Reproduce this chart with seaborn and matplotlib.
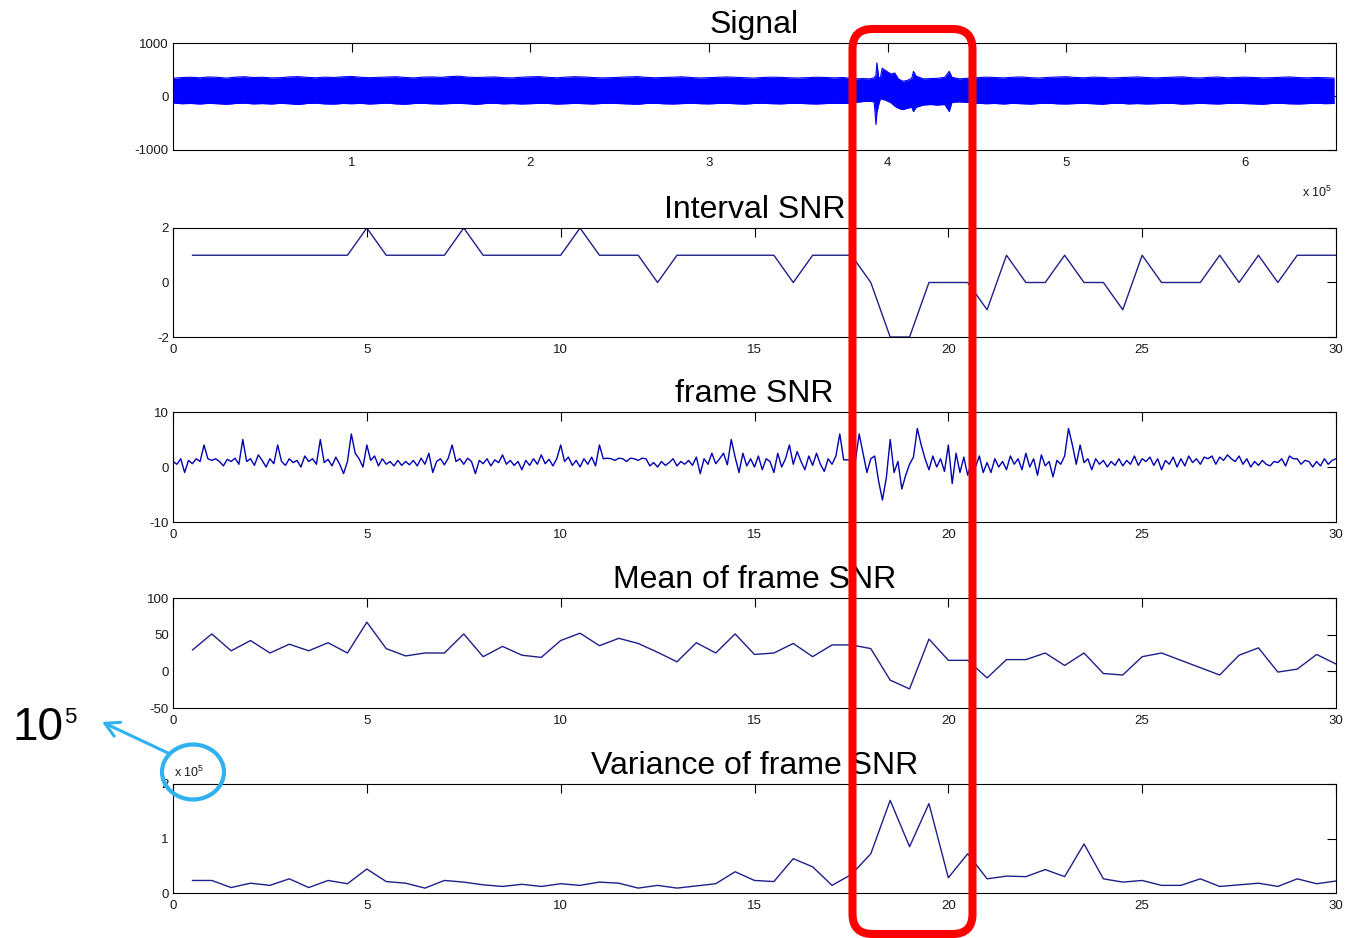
import numpy as np
import pandas as pd
import matplotlib
matplotlib.use("Agg")
import matplotlib.pyplot as plt
import seaborn as sns
from matplotlib.patches import FancyBboxPatch, Ellipse

sns.set_style("white")
plt.rcParams['font.family'] = ['Liberation Sans', 'DejaVu Sans']
plt.rcParams['axes.unicode_minus'] = False
plt.rcParams['mathtext.default'] = 'regular'

# ---------------- data ----------------
# Signal envelope (x in units of 1e5 samples)
sig_x_a = np.round(np.arange(0, 3.76, 0.05), 2)
sig_up_a = [340,355,360,350,365,358,345,362,370,355, 360,348,352,366,372,358,350,362,355,368,
            375,360,352,358,364,370,356,348,362,366, 358,372,380,362,355,360,366,352,348,360,
            368,372,358,350,362,370,365,355,348,352, 360,366,372,358,350,356,362,368,355,346,
            352,360,366,358,350,344,356,362,358,350, 345,352,360,356,348,355]
sig_lo_a = [-120,-135,-130,-140,-128,-135,-145,-130,-125,-138, -132,-140,-128,-135,-150,-130,-125,-138,-142,-130,
            -135,-128,-140,-132,-125,-138,-145,-130,-128,-136, -140,-132,-128,-135,-148,-130,-126,-138,-132,-140,
            -135,-128,-130,-142,-136,-128,-134,-140,-130,-126, -132,-138,-145,-130,-128,-136,-140,-132,-126,-134,
            -138,-130,-128,-136,-142,-130,-126,-134,-138,-130, -128,-135,-140,-132,-126,-130]
sig_x_b = [3.78, 3.82, 3.86, 3.90, 3.925, 3.935, 3.94, 3.95, 3.96, 3.97, 3.99, 4.02, 4.04, 4.06,
           4.085, 4.11, 4.135, 4.145, 4.16, 4.20, 4.24, 4.28, 4.32, 4.345, 4.36, 4.40, 4.45]
sig_up_b = [345, 330, 335, 330, 350, 400, 630, 350, 360, 530, 480, 420, 440, 330,
            285, 300, 340, 470, 380, 330, 335, 340, 360, 470, 360, 330, 340]
sig_lo_b = [-130, -110, -95, -90, -100, -525, -300, -150, -40, -50, -70, -120, -180, -220,
            -245, -220, -200, -280, -200, -160, -150, -160, -150, -280, -110, -100, -110]
sig_x_c = np.round(np.arange(4.50, 6.51, 0.05), 2)
sig_up_c = [350,362,355,348,360,366,352,345,358,364, 370,356,350,362,358,346,352,360,366,355,
            348,356,362,368,352,346,358,364,350,355, 362,356,348,352,360,366,354,348,356,350, 345]
sig_lo_c = [-125,-135,-130,-140,-128,-134,-142,-130,-126,-136, -140,-132,-128,-135,-145,-130,-126,-138,-132,-140,
            -135,-128,-130,-142,-136,-128,-134,-140,-130,-126, -132,-138,-145,-130,-128,-136,-140,-132,-126,-134, -130]

# Interval SNR (x = 0.5 .. 30 step 0.5)
seg_x = np.arange(1, 61) * 0.5
interval_snr = [1,1,1,1,1,1,1,1,1,2, 1,1,1,1,2,1,1,1,1,1,
                2,1,1,1,0,1,1,1,1,1, 1,0,1,1,1,0,-2,-2,0,0,
                0,-1,1,0,0,1,0,0,-1,1, 0,0,0,1,0,1,0,1,1,1]

# Mean of frame SNR
mean_snr = [29,51,28,42,25,37,28,39,25,67, 31,21,25,25,51,20,34,22,19,42,
            52,35,45,38,26,13,39,25,51,23, 25,38,20,36,36,31,-12,-24,44,15,
            15,-9,16,16,25,8,25,-3,-5,20, 25,15,5,-5,22,32,-1,3,23,10]

# Variance of frame SNR (x 1e5)
var_snr = [0.23,0.23,0.10,0.18,0.14,0.26,0.10,0.23,0.17,0.44, 0.21,0.18,0.09,0.23,0.20,0.15,0.12,0.16,0.12,0.17,
           0.14,0.20,0.18,0.09,0.14,0.09,0.13,0.17,0.39,0.23, 0.21,0.63,0.48,0.14,0.34,0.72,1.70,0.85,1.64,0.28,
           0.72,0.26,0.31,0.30,0.43,0.30,0.90,0.26,0.20,0.23, 0.14,0.14,0.26,0.12,0.15,0.18,0.12,0.26,0.17,0.22]

# frame SNR (x = 0 .. 30 step 0.1)
frame_x = np.arange(301) * 0.1
frame_snr = [
    1.0, 0.5, 1.5, -1.0, 1.2, 0.6, 1.5, 1.0, 4.0, 1.5,
    1.2, 1.5, 1.0, 0.2, 1.4, 1.0, 1.6, 0.5, 5.0, 1.0,
    1.5, 0.3, 2.2, 1.2, 0.0, 1.5, 0.6, 4.0, 1.0, 0.3,
    1.5, 0.8, 1.2, 0.0, 2.0, 1.0, 1.5, 0.5, 5.0, 0.8,
    1.4, 0.2, 1.8, 0.5, -1.2, 1.0, 6.0, 2.5, 1.5, 0.0,
    4.0, 1.2, 2.0, 0.2, 1.5, 0.5, 1.0, 0.2, 1.2, 0.3,
    1.0, 0.4, 1.2, 0.2, 1.6, 0.5, 2.5, -1.0, 1.0, 1.5,
    0.4, 1.6, 4.0, 1.0, 1.5, 0.5, 1.6, 1.0, -1.2, 1.2,
    0.6, 1.5, 0.2, 1.3, 0.8, 2.2, 0.5, 1.2, 0.3, 1.0,
    -0.5, 1.2, 0.3, 1.5, 0.5, 2.2, 0.6, 1.4, 0.2, 1.5,
    4.0, 1.0, 1.8, 0.3, 1.2, 0.0, 1.5, 0.5, 1.8, 0.2,
    4.0, 1.5, 1.6, 1.5, 1.2, 1.6, 1.5, 1.0, 1.6, 1.5,
    1.2, 1.6, 1.5, 0.2, 0.8, 0.0, 1.0, 0.3, 0.8, 1.5,
    0.2, 1.0, 0.5, 1.2, 0.3, 1.8, -1.2, 1.5, 0.5, 2.5,
    0.6, 1.5, 2.5, 0.4, 5.0, 1.8, -1.0, 2.5, 0.2, 1.5,
    0.0, 2.0, -0.5, 1.5, 1.0, -1.0, 2.5, 0.0, 1.5, 4.0,
    0.5, 2.8, 1.0, -0.5, 2.0, 0.3, 2.5, 0.5, -0.8, 1.5,
    0.5, 2.0, 6.0, 1.3, 1.3, 1.3, 1.0, 6.0, 2.5, -1.0,
    1.5, 2.0, -2.5, -6.0, -2.0, 5.0, -1.0, 1.0, -4.0, -1.5,
    0.5, 1.8, 7.0, 4.0, 1.5, -0.5, 2.0, 0.0, 1.5, -0.8,
    4.0, -3.0, 2.5, -1.0, 1.8, -1.5, 1.0, 0.0, 2.0, -1.0,
    0.8, -1.0, 1.5, 0.0, 1.0, -0.5, 2.0, 0.5, 1.5, -0.5,
    2.5, 0.0, 1.5, -1.5, 2.2, 0.2, 1.0, -1.8, 1.2, 0.5,
    2.0, 7.0, 4.0, 0.5, 4.0, 0.8, 1.5, -0.5, 1.5, 0.5,
    1.2, 0.0, 1.0, 0.3, 1.5, 0.2, 1.2, 0.5, 2.0, 0.3,
    1.5, 1.0, 1.8, 0.3, 1.5, -0.5, 1.2, 0.5, 1.8, 0.0,
    1.5, 0.2, 2.0, 0.8, 1.5, 0.5, 1.8, 1.5, 2.0, 0.5,
    1.8, 1.2, 2.2, 1.5, 1.0, 2.0, 0.5, 1.5, 0.0, 1.0,
    0.3, 1.2, 0.5, 0.2, 1.0, 0.8, 1.5, 0.2, 2.0, 1.5,
    1.5, 0.5, 1.2, 1.0, 0.0, 1.0, 0.2, 1.5, 0.5, 1.2,
    1.5]

titles = ["Signal", "Interval SNR", "frame SNR", "Mean of frame SNR", "Variance of frame SNR"]
snr_xticks = [0, 5, 10, 15, 20, 25, 30]

# ---------------- figure ----------------
W, H = 1346, 938
fig = plt.figure(figsize=(W / 100, H / 100), dpi=100)

def add_ax(top_px, bot_px):
    l, r = 173, 1336
    return fig.add_axes([l / W, 1 - bot_px / H, (r - l) / W, (bot_px - top_px) / H])

def style(ax, title):
    for sp in ax.spines.values():
        sp.set_color('black')
        sp.set_linewidth(0.8)
    ax.tick_params(direction='in', length=6.5, width=0.8, top=True, right=True,
                   labelsize=9.5, labelcolor='#1a1a1a', color='black')
    ax.tick_params(axis='x', pad=5)
    ax.tick_params(axis='y', pad=3)
    ax.set_title(title, fontsize=23, pad=7, color='black')
    ax.set_xlabel('')
    ax.set_ylabel('')
    ax.grid(False)

line_col = '#1f1f8a'

# Signal
ax0 = add_ax(43, 150)
sig_x = np.concatenate([sig_x_a, sig_x_b, sig_x_c]) * 1e5
sig_up = np.array(sig_up_a + sig_up_b + sig_up_c)
sig_lo = np.array(sig_lo_a + sig_lo_b + sig_lo_c)
ax0.fill_between(sig_x, sig_lo, sig_up, color='#0000ff', lw=0)
sns.lineplot(x=sig_x, y=sig_up, ax=ax0, color='#0000ff', lw=0.8)
sns.lineplot(x=sig_x, y=sig_lo, ax=ax0, color='#0000ff', lw=0.8)
ax0.set_xlim(0, 6.51e5)
ax0.set_ylim(-1000, 1000)
ax0.set_xticks([1e5, 2e5, 3e5, 4e5, 5e5, 6e5])
ax0.set_xticklabels(['1', '2', '3', '4', '5', '6'])
ax0.set_yticks([-1000, 0, 1000])
ax0.set_yticklabels(['-1000', '0', '1000'])
style(ax0, titles[0])

# Interval SNR
ax1 = add_ax(228, 337)
sns.lineplot(x=seg_x, y=interval_snr, ax=ax1, color=line_col, lw=1.0)
ax1.set_xlim(0, 30)
ax1.set_ylim(-2, 2)
ax1.set_yticks([-2, 0, 2])
ax1.set_xticks(snr_xticks)
style(ax1, titles[1])

# frame SNR
ax2 = add_ax(412, 522)
sns.lineplot(x=frame_x, y=frame_snr, ax=ax2, color='#0000b4', lw=1.0)
ax2.set_xlim(0, 30)
ax2.set_ylim(-10, 10)
ax2.set_yticks([-10, 0, 10])
ax2.set_xticks(snr_xticks)
style(ax2, titles[2])

# Mean of frame SNR
ax3 = add_ax(598, 708)
sns.lineplot(x=seg_x, y=mean_snr, ax=ax3, color=line_col, lw=1.0)
ax3.set_xlim(0, 30)
ax3.set_ylim(-50, 100)
ax3.set_yticks([-50, 0, 50, 100])
ax3.set_xticks(snr_xticks)
style(ax3, titles[3])

# Variance of frame SNR
ax4 = add_ax(784, 893)
sns.lineplot(x=seg_x, y=var_snr, ax=ax4, color=line_col, lw=1.0)
ax4.set_xlim(0, 30)
ax4.set_ylim(0, 2)
ax4.set_yticks([0, 1, 2])
ax4.set_xticks(snr_xticks)
style(ax4, titles[4])

# ---------------- overlay annotations (pixel coords) ----------------
ov = fig.add_axes([0, 0, 1, 1], zorder=10)
ov.set_xlim(0, W)
ov.set_ylim(H, 0)
ov.axis('off')
ov.patch.set_alpha(0)

ov.text(1302, 192, r'x 10$^5$', fontsize=9, color='#1a1a1a', ha='left', va='center')
ov.text(174, 772, r'x 10$^5$', fontsize=9, color='#1a1a1a', ha='left', va='center')

ov.add_patch(FancyBboxPatch((852.5, 29), 120, 905,
                            boxstyle='round,pad=0,rounding_size=20',
                            fill=False, ec='#ff0000', lw=5.8))

cyan = '#2eb2f0'
ov.add_patch(Ellipse((193, 772), 62, 55, fill=False, ec=cyan, lw=3))
ov.annotate('', xy=(102, 722), xytext=(168, 753),
            arrowprops=dict(arrowstyle='->,head_length=1.0,head_width=0.55',
                            color=cyan, lw=2.2, shrinkA=0, shrinkB=0))
ov.text(12, 740, '10', fontsize=33, color='black', ha='left', va='baseline')
ov.text(64, 723, '5', fontsize=16, color='black', ha='left', va='baseline')

fig.savefig('out.png', dpi=100)
